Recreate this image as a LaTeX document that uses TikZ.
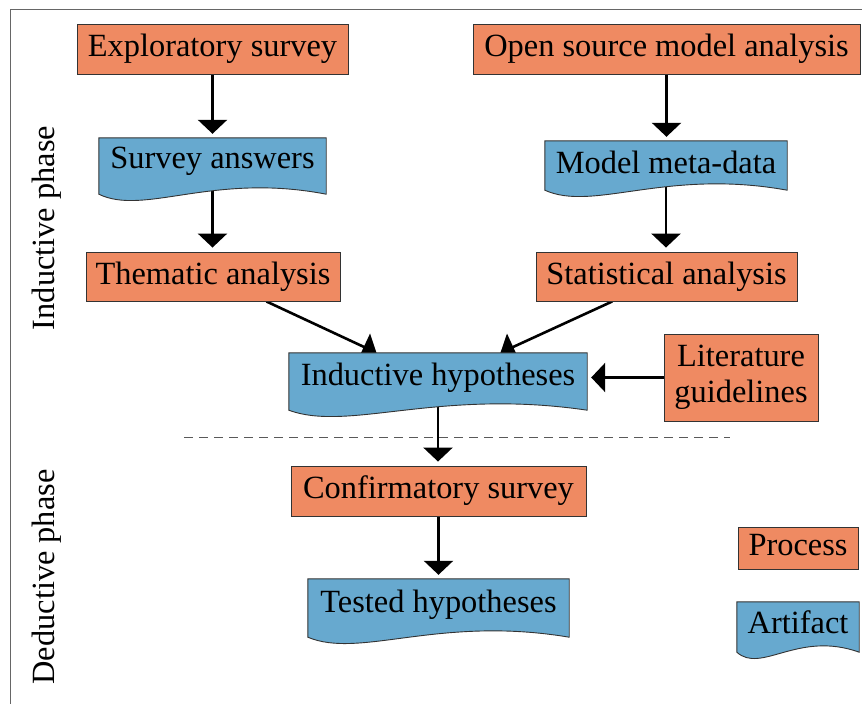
\documentclass[tikz,border=0pt]{standalone}
\usepackage{fontspec}
\setmainfont{Liberation Serif}
\usetikzlibrary{arrows.meta,calc}
\definecolor{procorange}{HTML}{EF8A62}
\definecolor{artblue}{HTML}{67A9CF}
\pgfdeclarelayer{back}
\pgfsetlayers{back,main}
\newcommand{\mydocshape}[1]{%
  \filldraw[docshape] let \p1=(#1.south west), \p2=(#1.south east) in
    (#1.north west) -- (\p1)
    .. controls ({0.8*\x1+0.2*\x2},{\y1-22pt}) and ({0.5*\x1+0.5*\x2},{\y1+22pt}) .. (\p2)
    -- (#1.north east) -- cycle;}
\begin{document}
\begin{tikzpicture}[x=1pt,y=-1pt,
  font=\fontsize{32.4}{36}\selectfont,
  box/.style={draw=black!80, line width=0.9pt, fill=procorange, inner sep=0pt},
  process/.style={box, text height=22pt, text depth=7pt},
  artifact/.style n args={3}{inner sep=0pt, minimum width=#1pt, text height=#2pt, text depth=#3pt},
  docshape/.style={draw=black!80, line width=0.9pt, fill=artblue},
  flow/.style={line width=2.6pt, -{Triangle[width=29pt,length=14pt]}, shorten >=4pt},
  phase/.style={rotate=90},
  sep/.style={draw=black!65, line width=1pt, dash pattern=on 9pt off 6pt}]
\useasboundingbox (0,0) rectangle (862,704);
\clip (0,0) rectangle (862,704);
\draw[black!60, line width=1.2pt] (10.5,9.5) rectangle (900,740);

% phase labels
\node[phase] (indl) at (47,228) {Inductive phase};
\node[phase] (dedl) at (47,577) {Deductive phase};

% processes
\node[process, minimum width=271pt, minimum height=50pt] (expl) at (212.5,49) {Exploratory survey};
\node[process, minimum width=387pt, minimum height=50pt] (open) at (666.5,49) {Open source model analysis};
\node[process, minimum width=254pt, minimum height=49pt] (them) at (213,276.5) {Thematic analysis};
\node[process, minimum width=261pt, minimum height=49pt] (stat) at (666.5,276.5) {Statistical analysis};
\node[box, minimum width=154pt, minimum height=87pt, align=center] (lit) at (741,377.5) {Literature\\guidelines};
\node[process, minimum width=295pt, minimum height=50pt] (conf) at (438.5,491) {Confirmatory survey};
\node[process, minimum width=120pt, minimum height=42pt] (proc) at (798,548) {Process};

% artifacts (text)
\node[artifact={227}{30}{26}] (sa) at (212.5,166) {Survey answers};
\node[artifact={242}{32}{17}] (md) at (666,165.5) {Model meta-data};
\node[artifact={298}{32}{25}] (ih) at (438,381.5) {Inductive hypotheses};
\node[artifact={261}{33}{25}] (th) at (438.5,608) {Tested hypotheses};
\node[artifact={122}{31}{19}] (art) at (798,627) {Artifact};

% separator
\coordinate (dl) at (184,437);
\coordinate (dr) at (730,437);
\draw[sep] (dl) -- (dr);

\begin{pgfonlayer}{back}
  \draw[flow] (expl.south) -- (expl.south |- sa.north);
  \draw[flow] (open.south) -- (open.south |- md.north);
  \draw[flow] (sa.center) -- (sa.center |- them.north);
  \draw[flow] (md.center) -- (md.center |- stat.north);
  \draw[flow, shorten >=0pt] (them) -- (ih);
  \draw[flow, shorten >=0pt] (stat) -- (ih);
  \draw[flow] (lit.west) -- (lit.west -| ih.east);
  \draw[flow] (ih.center) -- (ih.center |- conf.north);
  \draw[flow] (conf.south) -- (conf.south |- th.north);
  \mydocshape{sa}
  \mydocshape{md}
  \mydocshape{ih}
  \mydocshape{th}
  \mydocshape{art}
\end{pgfonlayer}
\end{tikzpicture}
\end{document}
